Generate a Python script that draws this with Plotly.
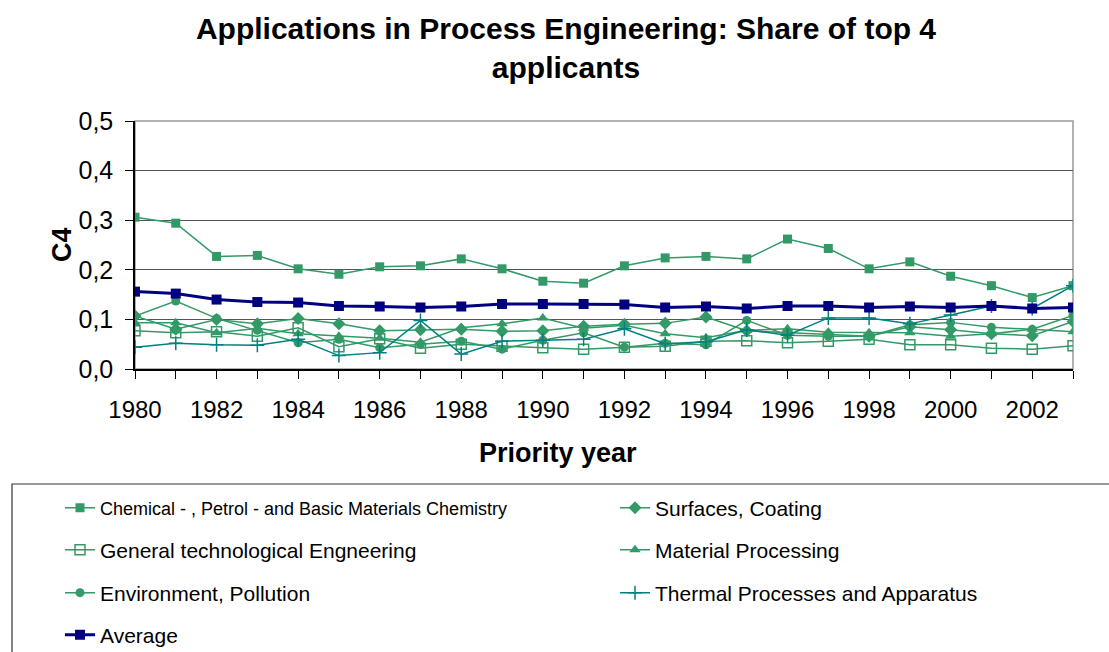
import plotly.graph_objects as go

years = list(range(1980, 2004))

chemical = [0.306, 0.294, 0.227, 0.229, 0.202, 0.191, 0.206, 0.208, 0.222, 0.202, 0.177, 0.173,
            0.208, 0.224, 0.227, 0.222, 0.262, 0.243, 0.202, 0.216, 0.187, 0.168, 0.144, 0.168]
surfaces = [0.107, 0.080, 0.100, 0.091, 0.102, 0.091, 0.077, 0.079, 0.080, 0.076, 0.077, 0.086,
            0.090, 0.092, 0.105, 0.077, 0.073, 0.070, 0.066, 0.085, 0.079, 0.071, 0.067, 0.096]
general = [0.077, 0.073, 0.075, 0.066, 0.083, 0.045, 0.061, 0.042, 0.050, 0.046, 0.043, 0.040,
           0.044, 0.046, 0.056, 0.057, 0.053, 0.056, 0.060, 0.049, 0.049, 0.042, 0.040, 0.047]
material = [0.093, 0.093, 0.073, 0.082, 0.071, 0.066, 0.062, 0.054, 0.083, 0.091, 0.103, 0.082,
            0.088, 0.071, 0.063, 0.078, 0.081, 0.074, 0.073, 0.073, 0.066, 0.071, 0.080, 0.075]
environment = [0.107, 0.137, 0.102, 0.078, 0.053, 0.060, 0.043, 0.050, 0.056, 0.040, 0.058, 0.073,
               0.044, 0.052, 0.049, 0.098, 0.068, 0.066, 0.066, 0.089, 0.094, 0.084, 0.080, 0.108]
thermal = [0.044, 0.052, 0.049, 0.048, 0.060, 0.027, 0.033, 0.098, 0.030, 0.056, 0.058, 0.060,
           0.081, 0.051, 0.055, 0.079, 0.068, 0.103, 0.103, 0.091, 0.109, 0.127, 0.122, 0.168]
average = [0.156, 0.152, 0.140, 0.135, 0.134, 0.127, 0.126, 0.124, 0.126, 0.131, 0.131, 0.131,
           0.130, 0.124, 0.126, 0.122, 0.127, 0.127, 0.124, 0.126, 0.124, 0.127, 0.122, 0.124]

y_ticks = [0.0, 0.1, 0.2, 0.3, 0.4, 0.5]
x_ticktext = [str(y) if y % 2 == 0 else "" for y in years]

GREEN = "#339966"
TEAL = "#008080"
NAVY = "#000080"
FONT = "Liberation Sans, Arial, sans-serif"

W, H = 1109, 652
L, R, T, B = 135, 36, 121, 283
PW, PH = W - L - R, H - T - B

# name, values, marker symbol, colour, line width, marker size, legend pixel position, legend font size
series = [
    ("Chemical - , Petrol - and Basic Materials Chemistry", chemical, "square", GREEN, 1.5, 9, (60, 508), 18),
    ("Surfaces, Coating", surfaces, "diamond", GREEN, 1.5, 10, (615, 508), 21),
    ("General technological Engneering", general, "square-open", GREEN, 1.5, 10, (60, 550), 21),
    ("Material Processing", material, "triangle-up", GREEN, 1.5, 10, (615, 550), 21),
    ("Environment, Pollution", environment, "circle", GREEN, 1.5, 9, (60, 593), 21),
    ("Thermal Processes and Apparatus", thermal, "cross-thin-open", TEAL, 1.5, 10, (615, 593), 21),
    ("Average", average, "square", NAVY, 3, 10, (60, 635), 21),
]

fig = go.Figure()
layout_legends = {}
for i, (name, vals, sym, col, lw, ms, (lx, ly), fs) in enumerate(series):
    key = "legend" if i == 0 else f"legend{i + 1}"
    fig.add_trace(go.Scatter(
        x=years, y=vals, name=name, mode="lines+markers",
        line=dict(color=col, width=lw),
        marker=dict(symbol=sym, size=ms, color=col, line=dict(color=col, width=1.5 if "open" in sym else 0)),
        legend=key,
    ))
    layout_legends[key] = dict(
        xref="container", yref="container",
        x=lx / W, y=1 - ly / H, xanchor="left", yanchor="middle",
        font=dict(family=FONT, size=fs, color="black"),
        bgcolor="rgba(0,0,0,0)", borderwidth=0,
    )

fig.update_layout(
    width=W, height=H,
    margin=dict(l=L, r=R, t=T, b=B, autoexpand=False),
    paper_bgcolor="white", plot_bgcolor="white",
    separators=",.",
    title=dict(
        text="<b>Applications in Process Engineering: Share of top 4<br>applicants</b>",
        x=566 / W, xanchor="center", y=1 - 39 / H, yanchor="middle",
        font=dict(family=FONT, size=30, color="black"),
    ),
    font=dict(family=FONT, color="black"),
    showlegend=True,
    **layout_legends,
)

fig.update_xaxes(
    range=[1980, 2003], tickmode="array", tickvals=years, ticktext=x_ticktext,
    ticks="outside", ticklen=8, tickcolor="black", tickwidth=1, tickangle=0,
    ticklabelstandoff=10,
    showline=True, linecolor="black", linewidth=1.5,
    showgrid=False, zeroline=False,
    tickfont=dict(family=FONT, size=24, color="black"),
)
fig.update_yaxes(
    range=[0, 0.5], tickmode="array", tickvals=y_ticks, tickformat=".1f",
    ticks="outside", ticklen=8, tickcolor="black", tickwidth=1,
    ticklabelstandoff=7,
    showline=True, linecolor="black", linewidth=1.5,
    showgrid=True, gridcolor="#555555", gridwidth=1.2, zeroline=False,
    tickfont=dict(family=FONT, size=25, color="black"),
)

# axis titles
fig.add_annotation(text="<b>Priority year</b>", xref="paper", yref="paper",
                   x=(558 - L) / PW, y=(H - B - 453) / PH, xanchor="center", yanchor="middle",
                   showarrow=False, font=dict(family=FONT, size=27, color="black"))
fig.add_annotation(text="<b>C4</b>", xref="paper", yref="paper", textangle=-90,
                   x=(62 - L) / PW, y=(H - B - 245) / PH, xanchor="center", yanchor="middle",
                   showarrow=False, font=dict(family=FONT, size=27, color="black"))

# plot-area frame and the legend box
fig.add_shape(type="rect", xref="paper", yref="paper", x0=0, y0=0, x1=1, y1=1,
              line=dict(color="#999999", width=1.5), layer="below")
fig.add_shape(type="rect", xref="paper", yref="paper",
              x0=(12 - L) / PW, y0=(H - B - 700) / PH, x1=(1130 - L) / PW, y1=(H - B - 484) / PH,
              line=dict(color="#333333", width=1.2), layer="below")

fig.write_html("out.html")
